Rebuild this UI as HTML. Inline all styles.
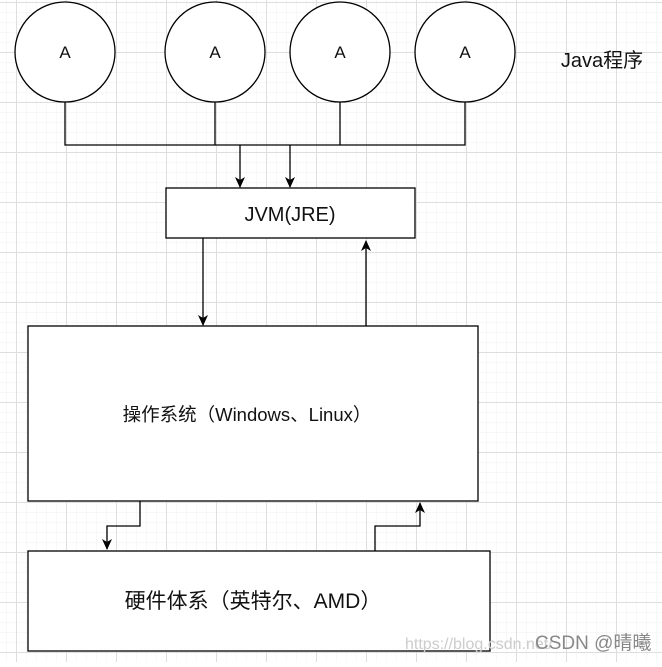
<!DOCTYPE html>
<html><head><meta charset="utf-8"><style>
body{margin:0;width:662px;height:662px;overflow:hidden;background:#fff}
</style></head><body>
<svg width="662" height="662" xmlns="http://www.w3.org/2000/svg" font-family="Liberation Sans, Noto Sans CJK SC, sans-serif">
<defs>
<pattern id="mi" width="10" height="10" patternUnits="userSpaceOnUse" x="6" y="2">
<path d="M0 0H10M0 0V10" stroke="#f0f0f0" stroke-width="1" fill="none"/></pattern>
<pattern id="ma" width="50" height="50" patternUnits="userSpaceOnUse" x="16" y="2">
<path d="M0 0.5H50M0.5 0V50" stroke="#dedede" stroke-width="1" fill="none"/></pattern>
<marker id="ar" markerWidth="12" markerHeight="12" refX="10" refY="6" orient="auto" markerUnits="userSpaceOnUse">
<path d="M0 1L11 6L0 11L3 6Z" fill="#000"/></marker>
</defs>
<rect width="662" height="662" fill="url(#mi)"/>
<rect width="662" height="662" fill="url(#ma)"/>
<g stroke="#000" stroke-width="1.3" fill="#fff">
<circle cx="65" cy="52" r="50"/><circle cx="215" cy="52" r="50"/>
<circle cx="340" cy="52" r="50"/><circle cx="465" cy="52" r="50"/>
<path d="M65 102V145H465V102M215 102V145M340 102V145" fill="none"/>
<path d="M240 145V187" fill="none" marker-end="url(#ar)"/>
<path d="M290 145V187" fill="none" marker-end="url(#ar)"/>
<rect x="166" y="188" width="249" height="50"/>
<path d="M203 238V325" fill="none" marker-end="url(#ar)"/>
<path d="M366 326V241" fill="none" marker-end="url(#ar)"/>
<rect x="28" y="326" width="450" height="175"/>
<path d="M140 501V526H107V549" fill="none" marker-end="url(#ar)"/>
<path d="M375 551V526H420V503" fill="none" marker-end="url(#ar)"/>
<rect x="28" y="551" width="462" height="100"/>
</g>
<g fill="#111" text-anchor="middle">
<text x="65" y="58" font-size="17">A</text><text x="215" y="58" font-size="17">A</text>
<text x="340" y="58" font-size="17">A</text><text x="465" y="58" font-size="17">A</text>
<text x="290" y="221" font-size="20">JVM(JRE)</text>
<text x="247" y="421" font-size="18.5">操作系统（Windows、Linux）</text>
<text x="253" y="608" font-size="21">硬件体系（英特尔、AMD）</text>
<text x="602" y="67" font-size="20">Java程序</text>
</g>
<text x="405" y="649" font-size="16" fill="#ccc">https://blog.csdn.net/</text>
<text x="535" y="649" font-size="19" fill="#888">CSDN @晴曦</text>
</svg>
</body></html>
